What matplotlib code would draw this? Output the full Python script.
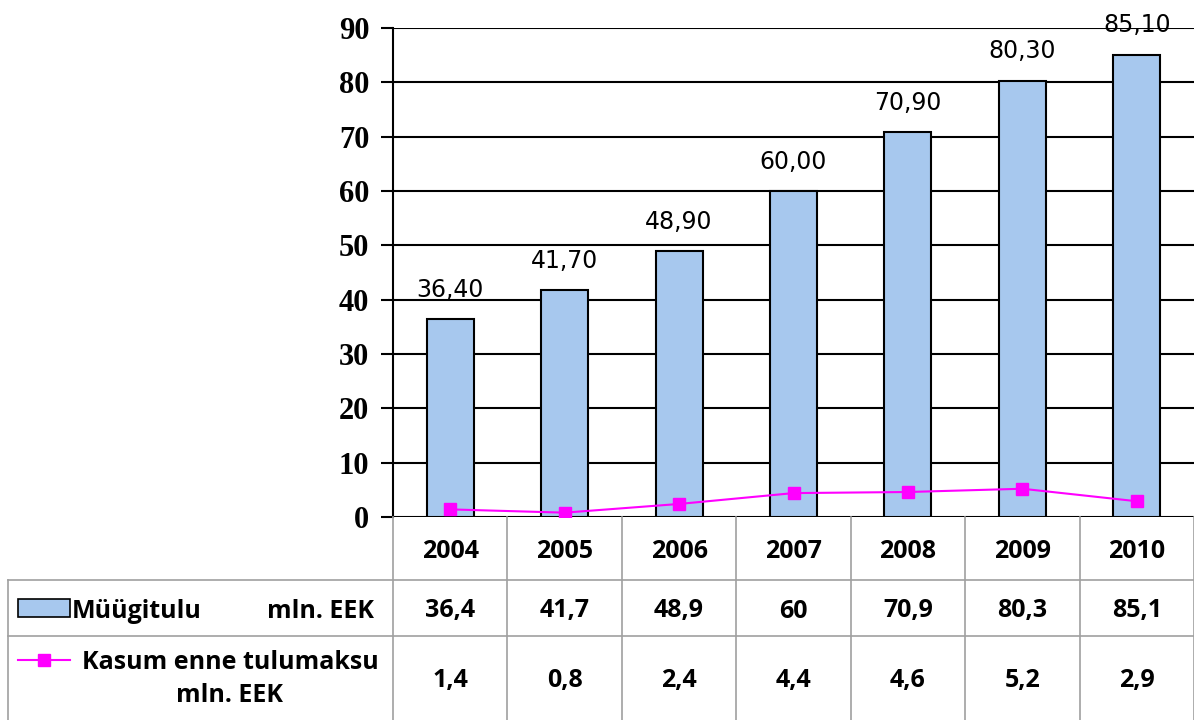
import matplotlib.pyplot as plt
from matplotlib.patches import Rectangle

years = ["2004", "2005", "2006", "2007", "2008", "2009", "2010"]
sales = [36.4, 41.7, 48.9, 60.0, 70.9, 80.3, 85.1]
profit = [1.4, 0.8, 2.4, 4.4, 4.6, 5.2, 2.9]
sales_label = "Müügitulu"
profit_label = "Kasum enne tulumaksu\nmln. EEK"
unit_label = "mln. EEK"

BAR_COLOR = "#A7C8EE"
LINE_COLOR = "#FF00FF"
GRID_COLOR = "#A0A0A0"
W, H = 1194, 720
AX_LEFT, AX_RIGHT, AX_TOP, AX_BOTTOM = 393, 1194, 28, 517
TABLE_LEFT = 8
ROW_EDGES = [0, 63, 119, 203]  # px below the axes bottom

SANS = ["Open Sans", "DejaVu Sans"]


def fmt(v, dec=None):
    s = f"{v:.{dec}f}" if dec is not None else f"{v:g}"
    return s.replace(".", ",")


fig = plt.figure(figsize=(W / 100, H / 100), dpi=100)
ax = fig.add_axes([AX_LEFT / W, (H - AX_BOTTOM) / H,
                   (AX_RIGHT - AX_LEFT) / W, (AX_BOTTOM - AX_TOP) / H])

x = list(range(len(years)))
ax.bar(x, sales, width=0.41, color=BAR_COLOR, edgecolor="black",
       linewidth=1.5, zorder=3)
ax.plot(x, profit, color=LINE_COLOR, linewidth=1.5, marker="s",
        markersize=8, zorder=4)

for xi, v in zip(x, sales):
    ax.annotate(fmt(v, 2), (xi, v), xytext=(0, 16), textcoords="offset points",
                ha="center", va="baseline", fontsize=17, family="DejaVu Sans",
                color="black", zorder=5, annotation_clip=False)

ax.set_xlim(-0.5, len(years) - 0.5)
ax.set_ylim(0, 90)
ax.set_yticks(range(0, 91, 10))
ax.set_xticks([])
ax.grid(axis="y", color="black", linewidth=1.5, zorder=0)
for side in ["top", "right", "bottom"]:
    ax.spines[side].set_visible(False)
ax.spines["left"].set_linewidth(1.5)
ax.tick_params(axis="y", length=9, width=1.5, pad=8)
for lbl in ax.get_yticklabels():
    lbl.set_fontfamily("Liberation Serif")
    lbl.set_fontweight("bold")
    lbl.set_fontsize(22)

# data table below the chart
col_px = (AX_RIGHT - AX_LEFT) / len(years)


def px(xp):
    return -0.5 + (xp - AX_LEFT) / col_px


axt = fig.add_axes([TABLE_LEFT / W, 0, (W - TABLE_LEFT) / W, (H - AX_BOTTOM) / H])
axt.set_xlim(px(TABLE_LEFT), len(years) - 0.5)
axt.set_ylim(H - AX_BOTTOM, 0)
axt.axis("off")

lw = 1.2
for i in range(len(years) + 1):
    axt.plot([i - 0.5, i - 0.5], [ROW_EDGES[0], ROW_EDGES[-1]],
             color=GRID_COLOR, lw=lw, clip_on=False)
axt.plot([px(TABLE_LEFT), px(TABLE_LEFT)], [ROW_EDGES[1], ROW_EDGES[-1]],
         color=GRID_COLOR, lw=lw, clip_on=False)
for y in ROW_EDGES[1:3]:
    axt.plot([px(TABLE_LEFT), len(years) - 0.5], [y, y],
             color=GRID_COLOR, lw=lw, clip_on=False)

txt = dict(fontsize=18, family=SANS, fontweight="bold", color="black",
           ha="center", va="center_baseline")
mid = [(ROW_EDGES[i] + ROW_EDGES[i + 1]) / 2 for i in range(3)]
for xi, yr, s, p in zip(x, years, sales, profit):
    axt.text(xi, mid[0], yr, **txt)
    axt.text(xi, mid[1], fmt(s), **txt)
    axt.text(xi, mid[2], fmt(p), **txt)

# legend keys inside the row-label column
axt.add_patch(Rectangle((px(18), mid[1] - 9), px(70) - px(18), 18,
                        facecolor=BAR_COLOR, edgecolor="black", lw=1.2))
axt.text(px(72), mid[1], sales_label, **{**txt, "ha": "left"})
axt.text(px(374), mid[1], unit_label, **{**txt, "ha": "right"})

axt.plot([px(18), px(70)], [ROW_EDGES[2] + 24] * 2, color=LINE_COLOR, lw=1.5)
axt.plot([px(44)], [ROW_EDGES[2] + 24], marker="s", markersize=8,
         color=LINE_COLOR)
axt.text(px(230), mid[2] + 1, profit_label, multialignment="center",
         linespacing=1.45, **{**txt, "va": "center"})

fig.savefig("out.png", dpi=100)
